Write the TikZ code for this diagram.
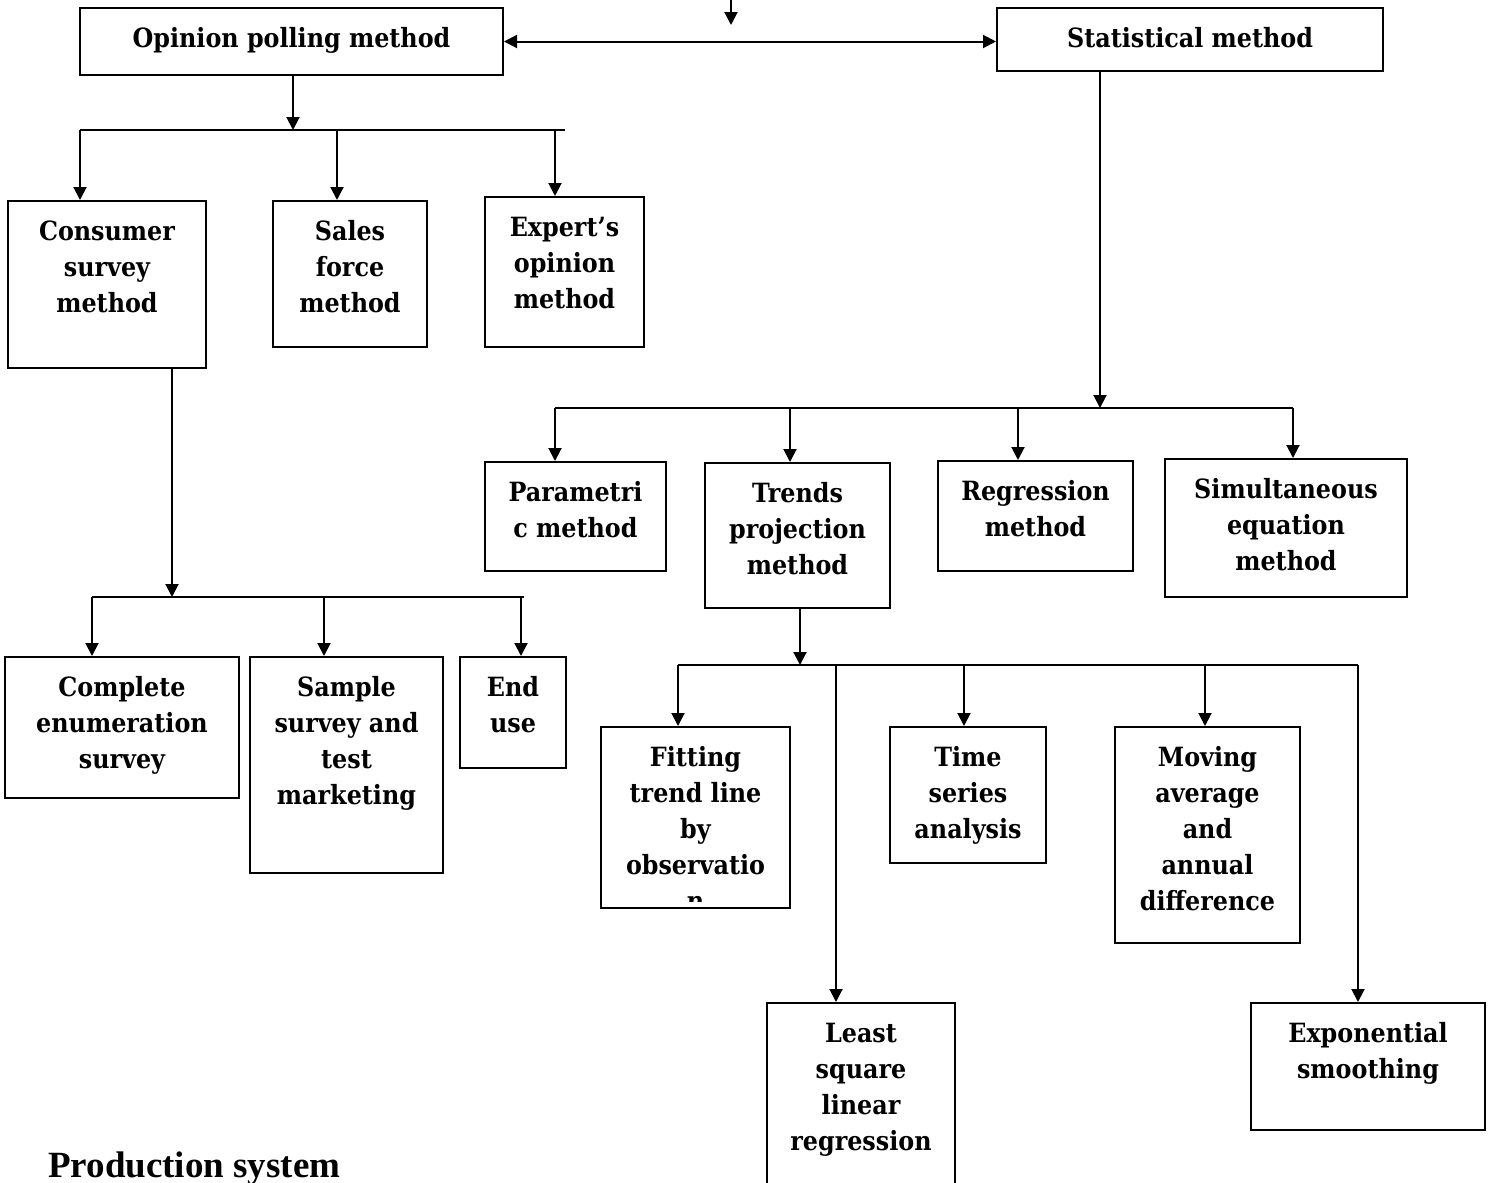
\documentclass[tikz,border=0pt]{standalone}
\usepackage{fontspec}
\setmainfont{DejaVu Serif Condensed}
\newfontfamily\headfont{Liberation Serif}
\usetikzlibrary{arrows.meta}

% a framed box given by its corners: name, x1, y1, x2, y2
\newcommand\flowbox[5]{%
  \node[box, minimum width={#4-#2}, minimum height={#5-#3}] (#1) at ({(#2+#4)/2},{(#3+#5)/2}) {};}
% its caption, hanging from the top edge
\newcommand\flowtext[2]{%
  \node[lbl] (#1-t) at ([yshift=-14.8pt]#1.north) {\strut #2};}

\begin{document}
\begin{tikzpicture}[x=1pt, y=-1pt,
  box/.style={draw, line width=2pt, inner sep=0pt},
  lbl/.style={anchor=north, align=center, inner sep=0pt,
              font=\fontsize{26.5}{36}\selectfont\bfseries},
  link/.style={line width=2pt},
  arr/.style={link, -{Triangle[length=13pt, width=13pt]}},
  twoway/.style={link, {Triangle[length=13pt, width=13pt]}-{Triangle[length=13pt, width=13pt]}},
]
\useasboundingbox (0,0) rectangle (1492,1183);

% ---- boxes ----
\flowbox{op}{80}{8}{503}{75}
\flowbox{st}{997}{8}{1383}{71}
\flowbox{cons}{8}{201}{206}{368}
\flowbox{sales}{273}{201}{427}{347}
\flowbox{expert}{485}{197}{644}{347}
\flowbox{compl}{5}{657}{239}{798}
\flowbox{sample}{250}{657}{443}{873}
\flowbox{enduse}{460}{657}{566}{768}
\flowbox{param}{485}{462}{666}{571}
\flowbox{trend}{705}{463}{890}{608}
\flowbox{regr}{938}{461}{1133}{571}
\flowbox{simul}{1165}{459}{1407}{597}
\flowbox{fit}{601}{727}{790}{908}
\flowbox{tseries}{890}{727}{1046}{863}
\flowbox{moving}{1115}{727}{1300}{943}
\flowbox{least}{767}{1003}{955}{1210}
\flowbox{expo}{1251}{1003}{1485}{1130}

% ---- captions ----
\flowtext{op}{Opinion polling method}
\flowtext{st}{Statistical method}
\flowtext{cons}{Consumer\\survey\\method}
\flowtext{sales}{Sales\\force\\method}
\flowtext{expert}{Expert’s\\opinion\\method}
\flowtext{compl}{Complete\\enumeration\\survey}
\flowtext{sample}{Sample\\survey and\\test\\marketing}
\flowtext{enduse}{End\\use}
\flowtext{param}{Parametri\\c method}
\flowtext{trend}{Trends\\projection\\method}
\flowtext{regr}{Regression\\method}
\flowtext{simul}{Simultaneous\\equation\\method}
\begin{scope}
  \clip ([xshift=1pt,yshift=-1pt]fit.north west) rectangle ([xshift=-1pt,yshift=8pt]fit.south east);
  \flowtext{fit}{Fitting\\trend line\\by\\observatio\\n}
\end{scope}
\flowtext{tseries}{Time\\series\\analysis}
\flowtext{moving}{Moving\\average\\and\\annual\\difference}
\flowtext{least}{Least\\square\\linear\\regression}
\flowtext{expo}{Exponential\\smoothing}

\node[anchor=base west, inner sep=0pt, font=\headfont\fontsize{37}{44}\selectfont\bfseries]
  (title) at (48,1177) {Production system};

% ---- incoming arrow and the link between the two methods ----
\coordinate (src) at (731,-5);
\coordinate (srcend) at (731,25);
\draw[arr] (src) -- (srcend);
\draw[twoway] (op.east) -- (op.east -| st.west);

% ---- opinion polling branches ----
\coordinate (ob) at (293,130);
\coordinate (ob1) at (80,130);
\coordinate (ob2) at (337,130);
\coordinate (ob3) at (555,130);
\coordinate (obr) at (565,130);
\draw[arr] (ob |- op.south) -- (ob);
\draw[link] (ob1) -- (obr);
\draw[arr] (ob1) -- (ob1 |- cons.north);
\draw[arr] (ob2) -- (ob2 |- sales.north);
\draw[arr] (ob3) -- (ob3 |- expert.north);

% ---- consumer survey branches ----
\coordinate (cb) at (172,597);
\coordinate (cb1) at (92,597);
\coordinate (cb2) at (324,597);
\coordinate (cb3) at (521,597);
\coordinate (cbr) at (524,597);
\draw[arr] (cb |- cons.south) -- (cb);
\draw[link] (cb1) -- (cbr);
\draw[arr] (cb1) -- (cb1 |- compl.north);
\draw[arr] (cb2) -- (cb2 |- sample.north);
\draw[arr] (cb3) -- (cb3 |- enduse.north);

% ---- statistical branches ----
\coordinate (sb) at (1100,408);
\coordinate (sb1) at (555,408);
\coordinate (sb2) at (790,408);
\coordinate (sb3) at (1018,408);
\coordinate (sb4) at (1293,408);
\draw[arr] (sb |- st.south) -- (sb);
\draw[link] (sb1) -- (sb4);
\draw[arr] (sb1) -- (sb1 |- param.north);
\draw[arr] (sb2) -- (sb2 |- trend.north);
\draw[arr] (sb3) -- (sb3 |- regr.north);
\draw[arr] (sb4) -- (sb4 |- simul.north);

% ---- trend projection branches ----
\coordinate (tb) at (800,665);
\coordinate (tb1) at (678,665);
\coordinate (tb2) at (836,665);
\coordinate (tb3) at (964,665);
\coordinate (tb4) at (1205,665);
\coordinate (tb5) at (1358,665);
\draw[arr] (tb |- trend.south) -- (tb);
\draw[link] (tb1) -- (tb5);
\draw[arr] (tb1) -- (tb1 |- fit.north);
\draw[arr] (tb2) -- (tb2 |- least.north);
\draw[arr] (tb3) -- (tb3 |- tseries.north);
\draw[arr] (tb4) -- (tb4 |- moving.north);
\draw[arr] (tb5) -- (tb5 |- expo.north);
\end{tikzpicture}
\end{document}
